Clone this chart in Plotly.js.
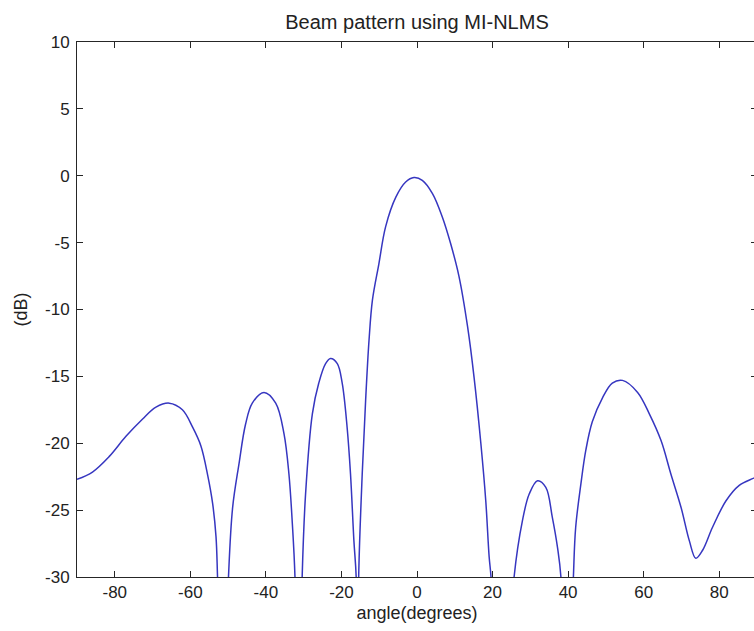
<!DOCTYPE html>
<html>
<head>
<meta charset="utf-8">
<script src="https://cdn.plot.ly/plotly-3.0.1.min.js"></script>
<style>
  html, body { margin: 0; padding: 0; background: #ffffff; overflow: hidden; }
  #chart { width: 760px; height: 631px; }
</style>
</head>
<body>
<div id="chart"></div>
<script>
// Beam pattern (dB) versus angle (degrees).
// Values below -30 dB (nulls) fall outside the plotted range and are clipped.
const angleDeg = [
  -90, -85.9, -81.5, -77.1, -72.7, -69.1, -65.6, -62.1, -59.4, -57.2,
  -55.4, -54.1, -53.2, -52.8, -51.4, -49.9, -48.8, -47.1, -45.4, -43.6,
  -40.5, -37.4, -35.2, -33.9, -33.0, -32.3, -31.3, -30.4, -29.5, -27.7,
  -26.0, -24.2, -22.9, -21.1, -19.8, -18.5, -17.6, -16.7, -16.1, -15.8,
  -15.4, -14.5, -13.6, -12.7, -11.8, -10.1, -8.3, -5.6, -3.0, -0.8,
  1.4, 4.1, 6.7, 8.9, 11.1, 13.4, 15.1, 16.9, 18.2, 19.1,
  19.6, 22.6, 25.7, 27.9, 29.7, 31.9, 34.1, 35.8, 37.2, 38.1,
  39.8, 41.4, 42.0, 43.4, 44.7, 46.4, 49.1, 51.7, 54.4, 58.4,
  61.5, 64.6, 67.2, 69.9, 72.1, 73.8, 75.6, 78.2, 81.8, 85.3,
  88.8, 90
];
const gainDb = [
  -22.7, -22.15, -21.0, -19.5, -18.2, -17.3, -17.0, -17.5, -18.8, -20.2,
  -22.4, -24.5, -27.0, -30, -45, -30, -24.8, -21.5, -18.6, -17.0,
  -16.2, -17.0, -19.3, -22.3, -26.0, -30, -45, -30, -23.8, -17.8,
  -15.5, -14.05, -13.67, -14.05, -15.5, -18.8, -22.3, -27.3, -30, -40,
  -29.5, -22.3, -16.8, -12.3, -9.3, -6.6, -3.8, -1.6, -0.47, -0.14,
  -0.34, -1.33, -3.08, -5.07, -7.5, -11.3, -15.05, -20.0, -24.3, -28.5,
  -30, -45, -30, -25.8, -23.8, -22.8, -23.3, -25.5, -27.8, -30,
  -45, -30, -26.3, -23.0, -20.5, -18.4, -16.6, -15.5, -15.3, -16.2,
  -17.8, -19.8, -22.3, -24.8, -27.3, -28.6, -28.0, -26.3, -24.3, -23.15,
  -22.65, -22.5
];
const xTickVals = [-80, -60, -40, -20, 0, 20, 40, 60, 80];
const yTickVals = [-30, -25, -20, -15, -10, -5, 0, 5, 10];

const chartTitle = 'Beam pattern using MI-NLMS';
const xLabel = 'angle(degrees)';
const yLabel = '(dB)';

const fontFamily = '"Liberation Sans", Arial, Helvetica, sans-serif';
const textColor = '#222222';

const trace = {
  x: angleDeg,
  y: gainDb,
  type: 'scatter',
  mode: 'lines',
  line: { color: '#3636c0', width: 1.5, shape: 'spline', smoothing: 1 },
  hoverinfo: 'x+y'
};

const axisCommon = {
  showline: true,
  linecolor: '#262626',
  linewidth: 1,
  mirror: 'ticks',
  ticks: 'inside',
  ticklen: 6,
  tickwidth: 1,
  tickcolor: '#262626',
  showgrid: false,
  zeroline: false,
  automargin: false,
  tickfont: { family: fontFamily, size: 17, color: textColor }
};

const layout = {
  width: 760,
  height: 631,
  margin: { l: 77, r: 3, t: 42, b: 54 },
  paper_bgcolor: '#ffffff',
  plot_bgcolor: '#ffffff',
  showlegend: false,
  title: {
    text: chartTitle,
    font: { family: fontFamily, size: 20, color: textColor },
    x: 0.5, xref: 'paper', xanchor: 'center',
    y: 1 - 22 / 631, yref: 'container', yanchor: 'middle'
  },
  xaxis: Object.assign({}, axisCommon, {
    range: [-90, 90],
    tickmode: 'array',
    tickvals: xTickVals,
    ticktext: xTickVals.map(String),
    title: { text: xLabel, font: { family: fontFamily, size: 18, color: textColor }, standoff: 4 }
  }),
  yaxis: Object.assign({}, axisCommon, {
    range: [-30, 10],
    tickmode: 'array',
    tickvals: yTickVals,
    ticktext: yTickVals.map(String),
    ticklabelstandoff: 3,
    title: { text: yLabel, font: { family: fontFamily, size: 18, color: textColor }, standoff: 12 }
  })
};

Plotly.newPlot('chart', [trace], layout, { displayModeBar: false, responsive: false });
</script>
</body>
</html>
